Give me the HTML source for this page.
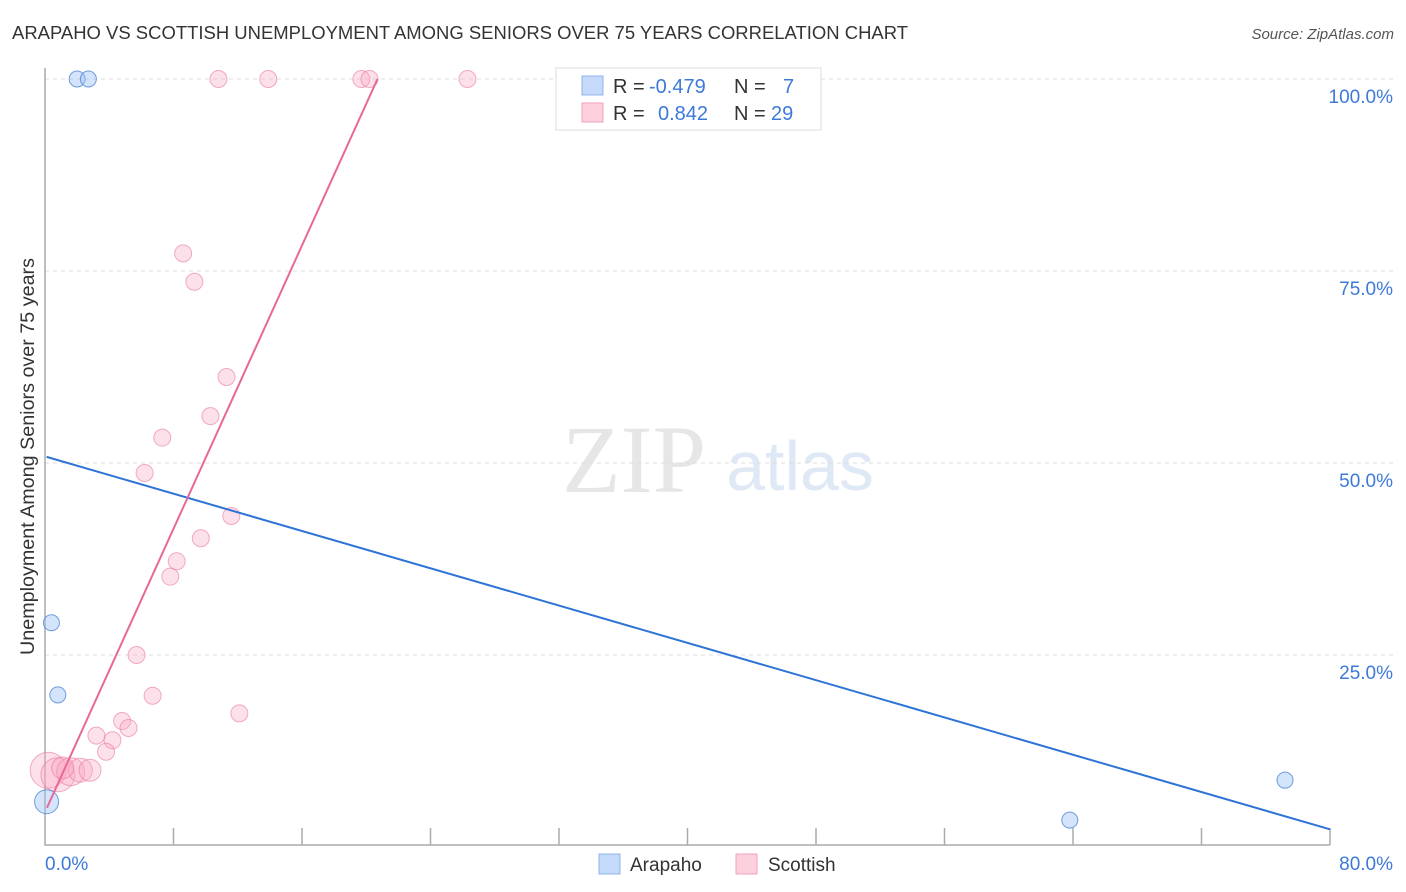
<!DOCTYPE html>
<html><head><meta charset="utf-8"><style>
body{margin:0;background:#fff;font-family:"Liberation Sans",sans-serif}
svg{display:block}
</style></head><body>
<svg id="chart" width="1406" height="892">
<text x="12" y="39" font-size="18" fill="#333" textLength="896" lengthAdjust="spacingAndGlyphs">ARAPAHO VS SCOTTISH UNEMPLOYMENT AMONG SENIORS OVER 75 YEARS CORRELATION CHART</text>
<text x="1394" y="39" font-size="15" fill="#555" text-anchor="end" font-style="italic">Source: ZipAtlas.com</text>
<text x="634" y="492" font-size="96" fill="#e6e6e6" font-family="Liberation Serif,serif" text-anchor="middle">ZIP</text>
<text x="800" y="490" font-size="70" fill="#dfe8f5" text-anchor="middle">atlas</text>
<text transform="translate(34,655) rotate(-90)" font-size="19" fill="#333" textLength="397" lengthAdjust="spacingAndGlyphs">Unemployment Among Seniors over 75 years</text>
<g id="grid"></g><g id="marks"></g>
<g>
<rect x="556" y="68" width="265" height="62" fill="#fff" stroke="#ddd"/>
<rect x="582" y="76" width="21" height="19" fill="#c5dafa" stroke="#8fb3e8"/>
<rect x="582" y="103" width="21" height="19" fill="#fcd0dd" stroke="#f0a3bb"/>
<text x="613" y="93" font-size="20" fill="#333">R = <tspan x="649" fill="#3d79d8">-0.479</tspan><tspan x="734">N = </tspan><tspan x="783" fill="#3d79d8">7</tspan></text>
<text x="613" y="120" font-size="20" fill="#333">R = <tspan x="658" fill="#3d79d8">0.842</tspan><tspan x="734">N = </tspan><tspan x="771" fill="#3d79d8">29</tspan></text>
</g>
<g>
<rect x="599" y="854" width="21" height="20" fill="#c5dafa" stroke="#8fb3e8"/>
<text x="630" y="871" font-size="19" fill="#333">Arapaho</text>
<rect x="736" y="854" width="21" height="20" fill="#fcd0dd" stroke="#f0a3bb"/>
<text x="768" y="871" font-size="19" fill="#333">Scottish</text>
</g>
</svg>
<script>
const yTicks=[25,50,75,100];
const yTickLabels=["25.0%","50.0%","75.0%","100.0%"];
const xTickCount=10;
const arapahoX=[2.0,2.7,0.4,0.8,0.1,63.8,77.2];
const arapahoY=[100,100,29.2,19.8,5.9,3.5,8.7];
const arapahoR=[8,8,8,8,12,8,8];
const scottishX=[10.8,13.9,19.7,20.2,26.3,8.6,9.3,11.3,10.3,7.3,6.2,11.6,9.7,8.2,7.8,5.7,6.7,12.1,4.8,5.2,3.2,4.2,3.8,0.2,0.8,1.6,2.2,2.8,1.1];
const scottishY=[100,100,100,100,100,77.3,73.6,61.2,56.1,53.3,48.7,43.1,40.2,37.2,35.2,25.0,19.7,17.4,16.4,15.5,14.5,13.9,12.4,10.0,9.4,9.8,10.0,10.0,10.3];
const scottishR=[8.5,8.5,8.5,8.5,8.5,8.5,8.5,8.5,8.5,8.5,8.5,8.5,8.5,8.5,8.5,8.5,8.5,8.5,8.5,8.5,8.5,8.5,8.5,18,17,14,12,11,11];
const arapahoLine=[[0.1,50.8],[80,2.3]];
const scottishLine=[[0.12,5.1],[20.7,100]];
const NS="http://www.w3.org/2000/svg";
const sx=v=>45+v*16.0625, sy=v=>847-v*7.68;
function mk(t,a,p){const e=document.createElementNS(NS,t);for(const k in a)e.setAttribute(k,a[k]);p.appendChild(e);return e;}
const grid=document.getElementById('grid'),marks=document.getElementById('marks');
yTicks.forEach((t,i)=>{
 const l=mk('line',{x1:45,x2:1394,y1:sy(t),y2:sy(t),stroke:'#ddd','stroke-dasharray':'4,4'},grid);
 
 
 const tx=mk('text',{x:1393,y:sy(t)+24,'font-size':19,fill:'#3d79d8','text-anchor':'end'},grid);
 tx.textContent=yTickLabels[i];
 
 
});
const ax=mk('path',{d:'M45 68V845H1330',stroke:'#aaa',fill:'none','stroke-width':1.5},grid);


for(let i=1;i<=xTickCount;i++){
 const x=sx(i*8);
 const t=mk('line',{x1:x,x2:x,y1:828,y2:845,stroke:'#aaa','stroke-width':1.5},grid);
 
 
}
const xl0=mk('text',{x:45,y:870,'font-size':19,fill:'#3d79d8'},grid);xl0.textContent='0.0%';


const xl1=mk('text',{x:1393,y:870,'font-size':19,fill:'#3d79d8','text-anchor':'end'},grid);xl1.textContent='80.0%';


scottishX.forEach((v,i)=>{
 const c=mk('circle',{cx:sx(v),cy:sy(scottishY[i]),r:scottishR[i],fill:'rgba(248,170,195,0.35)',stroke:'rgba(232,120,155,0.6)','stroke-width':1},marks);
 
 
});
arapahoX.forEach((v,i)=>{
 const c=mk('circle',{cx:sx(v),cy:sy(arapahoY[i]),r:arapahoR[i],fill:'rgba(160,195,245,0.45)',stroke:'rgba(80,135,215,0.8)','stroke-width':1},marks);
 
 
});
const l1=mk('line',{x1:sx(arapahoLine[0][0]),y1:sy(arapahoLine[0][1]),x2:sx(arapahoLine[1][0]),y2:sy(arapahoLine[1][1]),stroke:'#2e74d6','stroke-width':2},marks);


const l2=mk('line',{x1:sx(scottishLine[0][0]),y1:sy(scottishLine[0][1]),x2:sx(scottishLine[1][0]),y2:sy(scottishLine[1][1]),stroke:'#e8679a','stroke-width':2},marks);


</script>
</body></html>
